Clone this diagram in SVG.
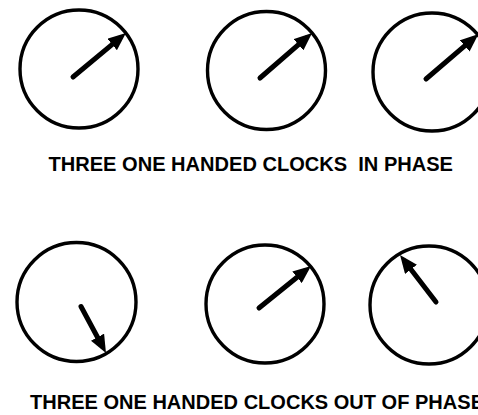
<svg xmlns="http://www.w3.org/2000/svg" width="478" height="415" viewBox="0 0 478 415">
<style>
.face{fill:none;stroke:#000;stroke-width:3.4}
.hand{fill:none;stroke:#000;stroke-width:5;stroke-linecap:round;marker-end:url(#head)}
.lbl{font-family:"Liberation Sans",Arial,Helvetica,sans-serif;font-size:20.5px;font-weight:bold;fill:#000}
</style>
<defs>
<marker id="head" viewBox="0 0 18 15" refX="10" refY="7.5" markerWidth="18" markerHeight="15" markerUnits="userSpaceOnUse" orient="auto">
<path d="M0,0 L18,7.5 L0,15 Z" fill="#000"/>
</marker>
</defs>
<rect width="478" height="415" fill="#fff"/>
<g id="clock1">
<circle class="face" cx="79" cy="69" r="59"/>
<line class="hand" x1="73" y1="77" x2="119.8" y2="38.1"/>
</g>
<g id="clock2">
<circle class="face" cx="266.5" cy="70.5" r="59"/>
<line class="hand" x1="260" y1="78" x2="306" y2="38.2"/>
</g>
<g id="clock3">
<circle class="face" cx="432" cy="72" r="59"/>
<line class="hand" x1="426" y1="79" x2="472.3" y2="39.4"/>
</g>
<g id="label1">
<text class="lbl" x="48.5" y="171" textLength="404.5" lengthAdjust="spacingAndGlyphs" xml:space="preserve">THREE ONE HANDED CLOCKS  IN PHASE</text>
</g>
<g id="clock4">
<circle class="face" cx="76.5" cy="302" r="59.5"/>
<line class="hand" x1="81" y1="306.5" x2="102.2" y2="346"/>
</g>
<g id="clock5">
<circle class="face" cx="265" cy="304" r="59"/>
<line class="hand" x1="259" y1="308" x2="304.8" y2="271"/>
</g>
<g id="clock6">
<circle class="face" cx="429" cy="305" r="59"/>
<line class="hand" x1="436" y1="302" x2="404.9" y2="261.4"/>
</g>
<g id="label2">
<text class="lbl" x="30" y="409" textLength="454" lengthAdjust="spacingAndGlyphs">THREE ONE HANDED CLOCKS OUT OF PHASE</text>
</g>
<g id="connectors"/>
</svg>
